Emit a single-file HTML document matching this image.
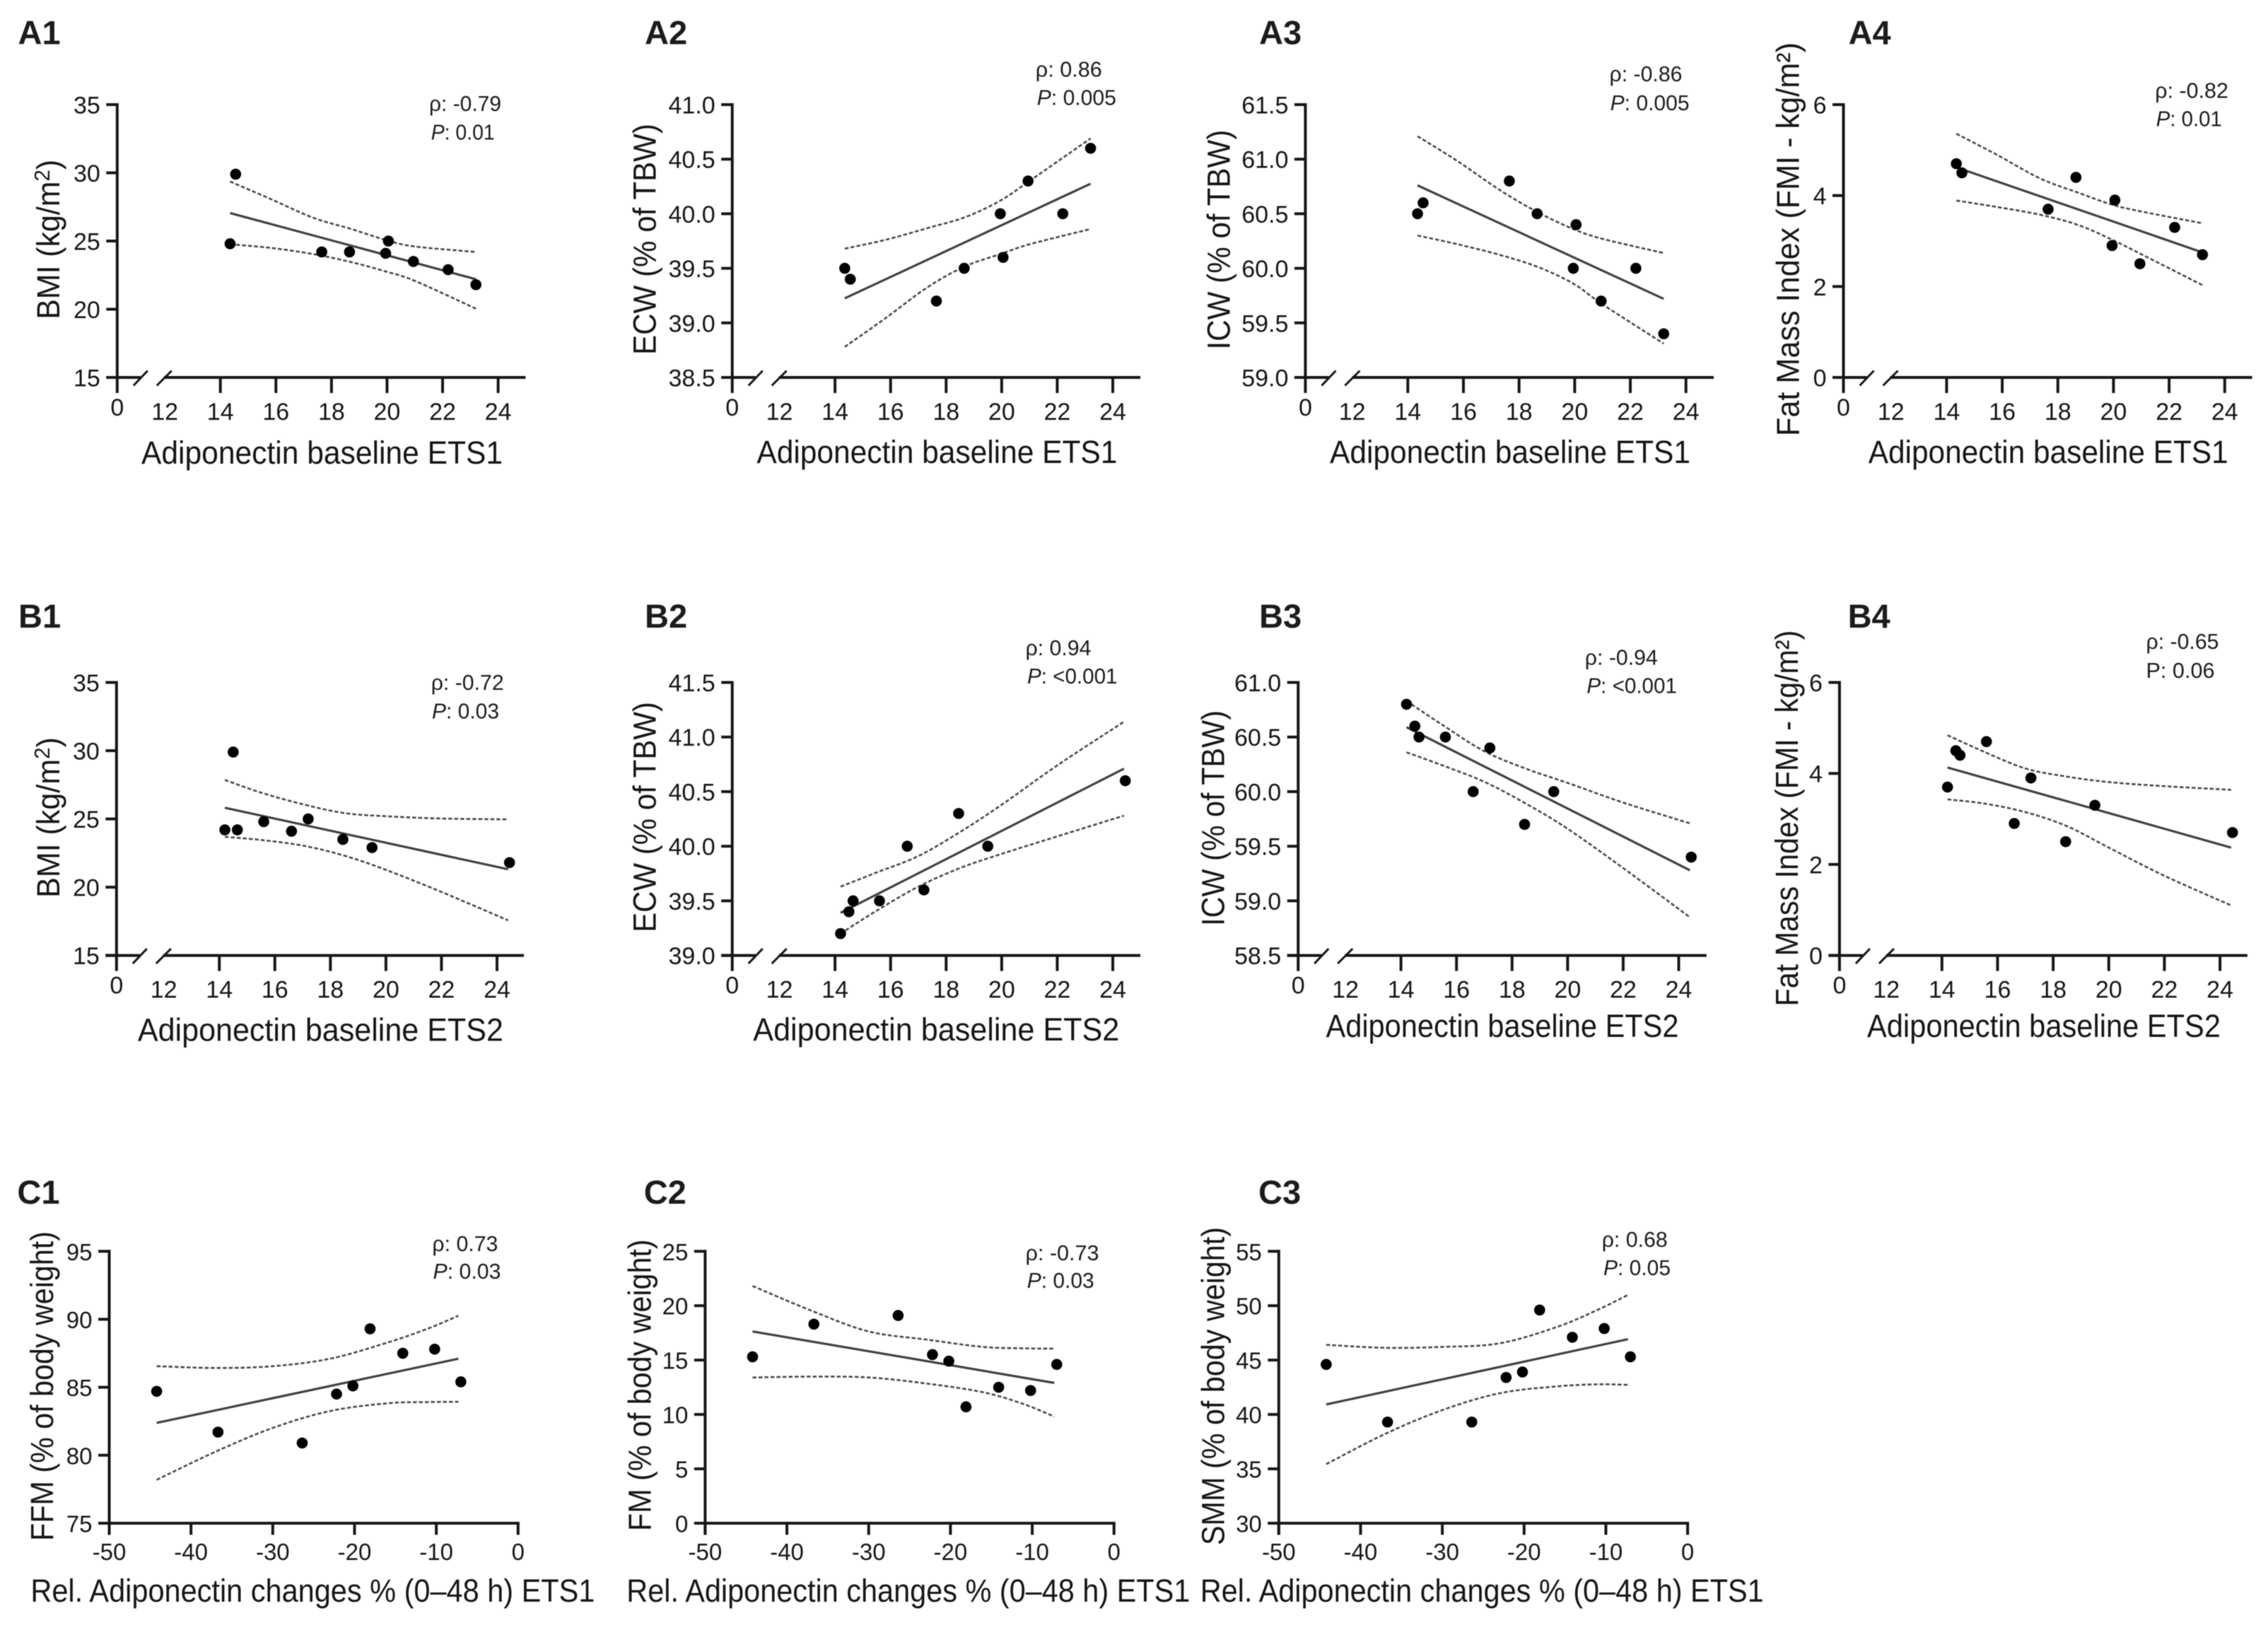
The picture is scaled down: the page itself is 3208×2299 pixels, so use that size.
<!DOCTYPE html>
<html lang="en">
<head>
<meta charset="utf-8">
<title>Adiponectin correlations</title>
<style>
html,body{margin:0;padding:0;background:#fff;width:3208px;height:2299px;overflow:hidden}
svg{display:block;filter:blur(0.6px)}
text{font-family:"Liberation Sans",Arial,sans-serif;fill:#161616}
.pl{font-size:47px;font-weight:700;fill:#1c1c1c}
.xt,.yt{font-size:45px}
.an{font-size:31px;fill:#1c1c1c}
.tk{font-size:34px}
.tc{font-size:33px}
</style>
</head>
<body>
<svg id="figure" xmlns="http://www.w3.org/2000/svg" width="3208" height="2299" viewBox="0 0 3208 2299">
<rect x="0" y="0" width="3208" height="2299" fill="#fff"/>

<g id="a1">
<text class="pl" x="25.5" y="62.5">A1</text>
<text class="yt" x="84.2" y="451.8" transform="rotate(-90 84.2 451.8)" textLength="226" lengthAdjust="spacingAndGlyphs">BMI (kg/m<tspan dy="-14" font-size="31">2</tspan><tspan dy="14">)</tspan></text>
<text class="xt" x="200" y="656" textLength="511" lengthAdjust="spacingAndGlyphs">Adiponectin baseline ETS1</text>
<text class="an" x="607" y="157" textLength="102" lengthAdjust="spacingAndGlyphs">ρ: -0.79</text>
<text class="an" x="609.7" y="197.3" textLength="90" lengthAdjust="spacingAndGlyphs"><tspan font-style="italic">P</tspan>: 0.01</text>
</g>

<g id="a2">
<text class="pl" x="912" y="62.5">A2</text>
<text class="yt" x="927.6" y="502" transform="rotate(-90 927.6 502)" textLength="327" lengthAdjust="spacingAndGlyphs">ECW (% of TBW)</text>
<text class="xt" x="1070.4" y="655" textLength="510" lengthAdjust="spacingAndGlyphs">Adiponectin baseline ETS1</text>
<text class="an" x="1464.8" y="108.5" textLength="94" lengthAdjust="spacingAndGlyphs">ρ: 0.86</text>
<text class="an" x="1466.8" y="148.7" textLength="112" lengthAdjust="spacingAndGlyphs"><tspan font-style="italic">P</tspan>: 0.005</text>
</g>

<g id="a3">
<text class="pl" x="1781" y="62.5">A3</text>
<text class="yt" x="1739.3" y="494.6" transform="rotate(-90 1739.3 494.6)" textLength="311" lengthAdjust="spacingAndGlyphs">ICW (% of TBW)</text>
<text class="xt" x="1881" y="655" textLength="510" lengthAdjust="spacingAndGlyphs">Adiponectin baseline ETS1</text>
<text class="an" x="2276.5" y="115" textLength="103" lengthAdjust="spacingAndGlyphs">ρ: -0.86</text>
<text class="an" x="2277.6" y="156" textLength="112" lengthAdjust="spacingAndGlyphs"><tspan font-style="italic">P</tspan>: 0.005</text>
</g>

<g id="a4">
<text class="pl" x="2614.6" y="62.5">A4</text>
<text class="yt" x="2544.7" y="617" transform="rotate(-90 2544.7 617)" textLength="557" lengthAdjust="spacingAndGlyphs">Fat Mass Index (FMI - kg/m²)</text>
<text class="xt" x="2642.7" y="655" textLength="509" lengthAdjust="spacingAndGlyphs">Adiponectin baseline ETS1</text>
<text class="an" x="3048.3" y="138.4" textLength="103.6" lengthAdjust="spacingAndGlyphs">ρ: -0.82</text>
<text class="an" x="3049.8" y="178.6" textLength="93" lengthAdjust="spacingAndGlyphs"><tspan font-style="italic">P</tspan>: 0.01</text>
</g>

<g id="b1">
<text class="pl" x="26" y="888">B1</text>
<text class="yt" x="84.2" y="1270" transform="rotate(-90 84.2 1270)" textLength="227" lengthAdjust="spacingAndGlyphs">BMI (kg/m<tspan dy="-14" font-size="31">2</tspan><tspan dy="14">)</tspan></text>
<text class="xt" x="194.9" y="1472.7" textLength="517" lengthAdjust="spacingAndGlyphs">Adiponectin baseline ETS2</text>
<text class="an" x="609.7" y="976" textLength="103" lengthAdjust="spacingAndGlyphs">ρ: -0.72</text>
<text class="an" x="611" y="1016.4" textLength="95" lengthAdjust="spacingAndGlyphs"><tspan font-style="italic">P</tspan>: 0.03</text>
</g>

<g id="b2">
<text class="pl" x="912" y="888">B2</text>
<text class="yt" x="927.6" y="1319" transform="rotate(-90 927.6 1319)" textLength="326" lengthAdjust="spacingAndGlyphs">ECW (% of TBW)</text>
<text class="xt" x="1065.3" y="1471.8" textLength="518" lengthAdjust="spacingAndGlyphs">Adiponectin baseline ETS2</text>
<text class="an" x="1450.5" y="927" textLength="93" lengthAdjust="spacingAndGlyphs">ρ: 0.94</text>
<text class="an" x="1453" y="967" textLength="127.5" lengthAdjust="spacingAndGlyphs"><tspan font-style="italic">P</tspan>: &lt;0.001</text>
</g>

<g id="b3">
<text class="pl" x="1781" y="888">B3</text>
<text class="yt" x="1731.6" y="1310" transform="rotate(-90 1731.6 1310)" textLength="305" lengthAdjust="spacingAndGlyphs">ICW (% of TBW)</text>
<text class="xt" x="1875.5" y="1467" textLength="499" lengthAdjust="spacingAndGlyphs">Adiponectin baseline ETS2</text>
<text class="an" x="2241.8" y="940.5" textLength="103" lengthAdjust="spacingAndGlyphs">ρ: -0.94</text>
<text class="an" x="2244.4" y="980.7" textLength="127.5" lengthAdjust="spacingAndGlyphs"><tspan font-style="italic">P</tspan>: &lt;0.001</text>
</g>

<g id="b4">
<text class="pl" x="2613.6" y="888">B4</text>
<text class="yt" x="2543.2" y="1423.6" transform="rotate(-90 2543.2 1423.6)" textLength="532" lengthAdjust="spacingAndGlyphs">Fat Mass Index (FMI - kg/m²)</text>
<text class="xt" x="2641" y="1467" textLength="500" lengthAdjust="spacingAndGlyphs">Adiponectin baseline ETS2</text>
<text class="an" x="3035.5" y="918" textLength="103" lengthAdjust="spacingAndGlyphs">ρ: -0.65</text>
<text class="an" x="3035.5" y="959" textLength="97" lengthAdjust="spacingAndGlyphs">P: 0.06</text>
</g>

<g id="c1">
<text class="pl" x="24.4" y="1703">C1</text>
<text class="yt" x="74.8" y="2180" transform="rotate(-90 74.8 2180)" textLength="438" lengthAdjust="spacingAndGlyphs">FFM (% of body weight)</text>
<text class="xt" x="43.4" y="2266" textLength="798" lengthAdjust="spacingAndGlyphs">Rel. Adiponectin changes % (0–48 h) ETS1</text>
<text class="an" x="611.4" y="1770" textLength="93" lengthAdjust="spacingAndGlyphs">ρ: 0.73</text>
<text class="an" x="612.5" y="1809" textLength="96" lengthAdjust="spacingAndGlyphs"><tspan font-style="italic">P</tspan>: 0.03</text>
</g>

<g id="c2">
<text class="pl" x="910.7" y="1703">C2</text>
<text class="yt" x="920.5" y="2166" transform="rotate(-90 920.5 2166)" textLength="412.6" lengthAdjust="spacingAndGlyphs">FM (% of body weight)</text>
<text class="xt" x="886.3" y="2266" textLength="797" lengthAdjust="spacingAndGlyphs">Rel. Adiponectin changes % (0–48 h) ETS1</text>
<text class="an" x="1450.5" y="1783" textLength="104" lengthAdjust="spacingAndGlyphs">ρ: -0.73</text>
<text class="an" x="1452.7" y="1822" textLength="95" lengthAdjust="spacingAndGlyphs"><tspan font-style="italic">P</tspan>: 0.03</text>
</g>

<g id="c3">
<text class="pl" x="1780" y="1703">C3</text>
<text class="yt" x="1731.3" y="2186" transform="rotate(-90 1731.3 2186)" textLength="450" lengthAdjust="spacingAndGlyphs">SMM (% of body weight)</text>
<text class="xt" x="1697.7" y="2266" textLength="797" lengthAdjust="spacingAndGlyphs">Rel. Adiponectin changes % (0–48 h) ETS1</text>
<text class="an" x="2265.7" y="1764" textLength="93" lengthAdjust="spacingAndGlyphs">ρ: 0.68</text>
<text class="an" x="2268" y="1804" textLength="95" lengthAdjust="spacingAndGlyphs"><tspan font-style="italic">P</tspan>: 0.05</text>
</g>
</svg>

<script>
// ---- categories / x values (per subject) ----
const rowAX = [14.35,14.55,17.65,18.65,19.95,20.05,20.95,22.2,23.2];
const rowBX = [14.2,14.5,14.65,15.6,16.6,17.2,18.45,19.5,24.45];
const rowCX = [-44.2,-36.7,-26.4,-22.2,-20.2,-18.1,-14.1,-10.2,-7];

// ---- x positions of the fit ends and of the confidence band samples ----
const fitXA = [14.35,23.2];
const fitXB = [14.2,24.4];
const fitXC = [-44.2,-7.3];
const ciXA = [14.35,15.8,17.35,18.7,19.95,21,23.2];
const ciXB = [14.2,15.5,17,18.5,20,22,24.4];
const ciXC = [-44.2,-37,-30,-23,-16,-11,-7.3];

// ---- tick labels ----
const breakXTicks = ['14','16','18','20','22','24'];
const breakXLowLabels = ['0','12'];
const relXTicks = ['-50','-40','-30','-20','-10','0'];
const bmiYTicks = ['15','20','25','30','35'];
const ecwAYTicks = ['38.5','39.0','39.5','40.0','40.5','41.0'];
const icwAYTicks = ['59.0','59.5','60.0','60.5','61.0','61.5'];
const fmiYTicks = ['0','2','4','6'];
const ecwBYTicks = ['39.0','39.5','40.0','40.5','41.0','41.5'];
const icwBYTicks = ['58.5','59.0','59.5','60.0','60.5','61.0'];
const ffmYTicks = ['75','80','85','90','95'];
const fmYTicks = ['0','5','10','15','20','25'];
const smmYTicks = ['30','35','40','45','50','55'];

// ---- series: points, fit ends, upper and lower confidence bands ----
const a1Y = [24.8,29.9,24.2,24.2,24.1,25,23.5,22.9,21.8];
const a1Fit = [27.05,22.2];
const a1Upper = [29.36,28.09,26.7,25.89,25.08,24.6,24.2];
const a1Lower = [24.76,24.5,24.04,23.46,22.77,22.08,20.04];

const a2Y = [39.5,39.4,39.2,39.5,40,39.6,40.3,40,40.6];
const a2Fit = [39.225,40.275];
const a2Upper = [39.68,39.76,39.87,39.97,40.12,40.3,40.69];
const a2Lower = [38.78,39.04,39.33,39.52,39.63,39.72,39.86];

const a3Y = [60.5,60.6,60.8,60.5,60,60.4,59.7,60,59.4];
const a3Fit = [60.76,59.72];
const a3Upper = [61.21,60.98,60.71,60.51,60.36,60.27,60.14];
const a3Lower = [60.3,60.22,60.12,60.01,59.86,59.67,59.31];

const a4Y = [4.7,4.5,3.7,4.4,2.9,3.9,2.5,3.3,2.7];
const a4Fit = [4.62,2.75];
const a4Upper = [5.36,4.9,4.38,4.07,3.8,3.65,3.39];
const a4Lower = [3.89,3.75,3.58,3.36,3.03,2.71,2.03];

const b1Y = [24.2,29.9,24.2,24.8,24.1,25,23.5,22.9,21.8];
const b1Fit = [25.82,21.31];
const b1Upper = [27.86,26.93,26.08,25.43,25.2,25.03,24.97];
const b1Lower = [23.69,23.46,23.05,22.31,21.27,19.65,17.57];

const b2Y = [39.2,39.4,39.5,39.5,40,39.6,40.3,40,40.6];
const b2Fit = [39.39,40.71];
const b2Upper = [39.63,39.76,39.91,40.13,40.38,40.74,41.14];
const b2Lower = [39.2,39.41,39.63,39.8,39.93,40.09,40.28];

const b3Y = [60.8,60.6,60.5,60.5,60,60.4,59.7,60,59.4];
const b3Fit = [60.59,59.28];
const b3Upper = [60.83,60.61,60.37,60.21,60.08,59.9,59.71];
const b3Lower = [60.36,60.24,60.09,59.89,59.66,59.3,58.85];

const b4Y = [3.7,4.5,4.4,4.7,2.9,3.9,2.5,3.3,2.7];
const b4Fit = [4.13,2.37];
const b4Upper = [4.84,4.48,4.11,3.93,3.81,3.72,3.64];
const b4Lower = [3.43,3.34,3.15,2.84,2.37,1.75,1.1];

const c1Y = [84.7,81.7,80.9,84.5,85.1,89.3,87.5,87.8,85.4];
const c1Fit = [82.38,87.1];
const c1Upper = [86.55,86.42,86.55,87.1,88.28,89.32,90.26];
const c1Lower = [78.19,80.26,82.01,83.25,83.82,83.91,83.93];

const c2Y = [15.3,18.3,19.1,15.5,14.9,10.7,12.5,12.2,14.6];
const c2Fit = [17.63,12.9];
const c2Upper = [21.81,19.54,17.63,16.89,16.21,16.08,16.05];
const c2Lower = [13.4,13.48,13.4,12.85,12.04,10.94,9.8];

const c3Y = [44.6,39.3,39.3,43.4,43.9,49.6,47.1,47.9,45.3];
const c3Fit = [40.92,46.92];
const c3Upper = [46.4,46.13,46.21,46.54,48.04,49.62,50.99];
const c3Lower = [35.43,38.21,40.4,41.95,42.58,42.77,42.72];

// ---- panel layout ----
const panels = [
 {id:'a1',ax:165.8,p0:311.7,p1:704.6,end:743.4,top:148,bot:534,brk:true,xs:rowAX,fx:fitXA,cx:ciXA,yt:bmiYTicks,ys:a1Y,fit:a1Fit,up:a1Upper,lo:a1Lower},
 {id:'a2',ax:1035.7,p0:1181.1,p1:1574,end:1613,top:148,bot:534,brk:true,xs:rowAX,fx:fitXA,cx:ciXA,yt:ecwAYTicks,ys:a2Y,fit:a2Fit,up:a2Upper,lo:a2Lower},
 {id:'a3',ax:1846.4,p0:1991.3,p1:2384.7,end:2424,top:148,bot:534,brk:true,xs:rowAX,fx:fitXA,cx:ciXA,yt:icwAYTicks,ys:a3Y,fit:a3Fit,up:a3Upper,lo:a3Lower},
 {id:'a4',ax:2607.5,p0:2753.4,p1:3146.8,end:3185.6,top:148,bot:534,brk:true,xs:rowAX,fx:fitXA,cx:ciXA,yt:fmiYTicks,ys:a4Y,fit:a4Fit,up:a4Upper,lo:a4Lower},
 {id:'b1',ax:164.8,p0:310.2,p1:703,end:741,top:965.5,bot:1351.7,brk:true,xs:rowBX,fx:fitXB,cx:ciXB,yt:bmiYTicks,ys:b1Y,fit:b1Fit,up:b1Upper,lo:b1Lower},
 {id:'b2',ax:1035.7,p0:1181.1,p1:1574,end:1613,top:965.5,bot:1351.7,brk:true,xs:rowBX,fx:fitXB,cx:ciXB,yt:ecwBYTicks,ys:b2Y,fit:b2Fit,up:b2Upper,lo:b2Lower},
 {id:'b3',ax:1836.2,p0:1981.6,p1:2374.5,end:2413.8,top:965.5,bot:1351.7,brk:true,xs:rowBX,fx:fitXB,cx:ciXB,yt:icwBYTicks,ys:b3Y,fit:b3Fit,up:b3Upper,lo:b3Lower},
 {id:'b4',ax:2601.9,p0:2746.8,p1:3140.1,end:3178.9,top:965.5,bot:1351.7,brk:true,xs:rowBX,fx:fitXB,cx:ciXB,yt:fmiYTicks,ys:b4Y,fit:b4Fit,up:b4Upper,lo:b4Lower},
 {id:'c1',ax:154.5,p0:154.5,p1:732.8,end:732.8,top:1770.3,bot:2155,brk:false,xs:rowCX,fx:fitXC,cx:ciXC,yt:ffmYTicks,ys:c1Y,fit:c1Fit,up:c1Upper,lo:c1Lower},
 {id:'c2',ax:997.4,p0:997.4,p1:1575.7,end:1575.7,top:1770.3,bot:2155,brk:false,xs:rowCX,fx:fitXC,cx:ciXC,yt:fmYTicks,ys:c2Y,fit:c2Fit,up:c2Upper,lo:c2Lower},
 {id:'c3',ax:1808.8,p0:1808.8,p1:2387.1,end:2387.1,top:1770.3,bot:2155,brk:false,xs:rowCX,fx:fitXC,cx:ciXC,yt:smmYTicks,ys:c3Y,fit:c3Fit,up:c3Upper,lo:c3Lower}
];

const NS = 'http://www.w3.org/2000/svg';
const AXIS = '#161616';

function make(tag, parent, attrs){
  const el = document.createElementNS(NS, tag);
  for (const k in attrs) el.setAttribute(k, attrs[k]);
  parent.appendChild(el);
  return el;
}
function seg(parent, x1, y1, x2, y2, w){
  return make('line', parent, {x1:x1, y1:y1, x2:x2, y2:y2, stroke:AXIS, 'stroke-width':w, 'stroke-linecap':'butt'});
}
function smoothPath(pts){
  let d = 'M' + pts[0][0].toFixed(2) + ' ' + pts[0][1].toFixed(2);
  for (let i = 0; i < pts.length - 1; i++){
    const a = pts[Math.max(0, i-1)], b = pts[i], c = pts[i+1], e = pts[Math.min(pts.length-1, i+2)];
    const c1x = b[0] + (c[0]-a[0])/6, c1y = b[1] + (c[1]-a[1])/6;
    const c2x = c[0] - (e[0]-b[0])/6, c2y = c[1] - (e[1]-b[1])/6;
    d += ' C' + c1x.toFixed(2) + ' ' + c1y.toFixed(2) + ' ' + c2x.toFixed(2) + ' ' + c2y.toFixed(2) + ' ' + c[0].toFixed(2) + ' ' + c[1].toFixed(2);
  }
  return d;
}

panels.forEach(function(p){
  const g = document.getElementById(p.id);
  const yVals = p.yt.map(Number);
  const yMin = yVals[0], yMax = yVals[yVals.length-1];
  const xD0 = p.brk ? 14 : -50, xD1 = p.brk ? 24 : 0;
  const xScale = function(v){ return p.p0 + (v - xD0) * (p.p1 - p.p0) / (xD1 - xD0); };
  const yScale = function(v){ return p.bot - (v - yMin) * (p.bot - p.top) / (yMax - yMin); };
  const xTickLen = p.brk ? 22 : 16.4;
  const sw = 4;

  // y axis line
  const yAxis = seg(g, p.ax, p.top - sw/2, p.ax, p.bot + xTickLen, sw);
  
  

  // y ticks and labels
  p.yt.forEach(function(lbl){
    const y = yScale(Number(lbl));
    const t = seg(g, p.ax - 15.5, y, p.ax, y, sw);
    
    
    const tx = make('text', g, {class: p.brk ? 'tk' : 'tc', x: p.ax - 24, y: y + 12.5, 'text-anchor':'end'});
    tx.textContent = lbl;
    
    
  });

  // x axis line, with a break for the baseline panels
  if (p.brk){
    const s1 = seg(g, p.ax - 15.5, p.bot, p.ax + 33, p.bot, sw);
    
    
    const s2 = seg(g, p.ax + 66, p.bot, p.end, p.bot, sw);
    
    
    const b1 = seg(g, p.ax + 23, p.bot + 11.5, p.ax + 43, p.bot - 9.5, 3);
    
    
    const b2 = seg(g, p.ax + 56, p.bot + 11.5, p.ax + 77, p.bot - 9.5, 3);
    
    
    const zero = make('text', g, {class:'tk', x: p.ax, y: p.bot + 54, 'text-anchor':'middle'});
    zero.textContent = breakXLowLabels[0];
    
    
    const twelve = make('text', g, {class:'tk', x: xScale(Number(breakXLowLabels[1])), y: p.bot + 60, 'text-anchor':'middle'});
    twelve.textContent = breakXLowLabels[1];
    
    
  } else {
    const s = seg(g, p.ax - 15.5, p.bot, p.end + sw/2, p.bot, sw);
    
    
  }

  // x ticks and labels
  (p.brk ? breakXTicks : relXTicks).forEach(function(lbl){
    const x = xScale(Number(lbl));
    const t = seg(g, x, p.bot, x, p.bot + xTickLen, sw);
    
    
    const tx = make('text', g, {class: p.brk ? 'tk' : 'tc', x: x, y: p.bot + (p.brk ? 60 : 52), 'text-anchor':'middle'});
    tx.textContent = lbl;
    
    
  });

  // confidence bands
  const upPath = make('path', g, {d: smoothPath(p.cx.map(function(x,i){ return [xScale(x), yScale(p.up[i])]; })), fill:'none', stroke:'#484848', 'stroke-width':2.6, 'stroke-dasharray':'5.5 3'});
  
  
  const loPath = make('path', g, {d: smoothPath(p.cx.map(function(x,i){ return [xScale(x), yScale(p.lo[i])]; })), fill:'none', stroke:'#484848', 'stroke-width':2.6, 'stroke-dasharray':'5.5 3'});
  
  

  // regression line
  const fitLine = make('line', g, {x1: xScale(p.fx[0]), y1: yScale(p.fit[0]), x2: xScale(p.fx[1]), y2: yScale(p.fit[1]), stroke:'#404040', 'stroke-width':3.2});
  
  

  // data points
  p.xs.forEach(function(x,i){
    const c = make('circle', g, {cx: xScale(x), cy: yScale(p.ys[i]), r: 7.8, fill:'#000'});
    
    
  });
});
</script>
</body>
</html>
